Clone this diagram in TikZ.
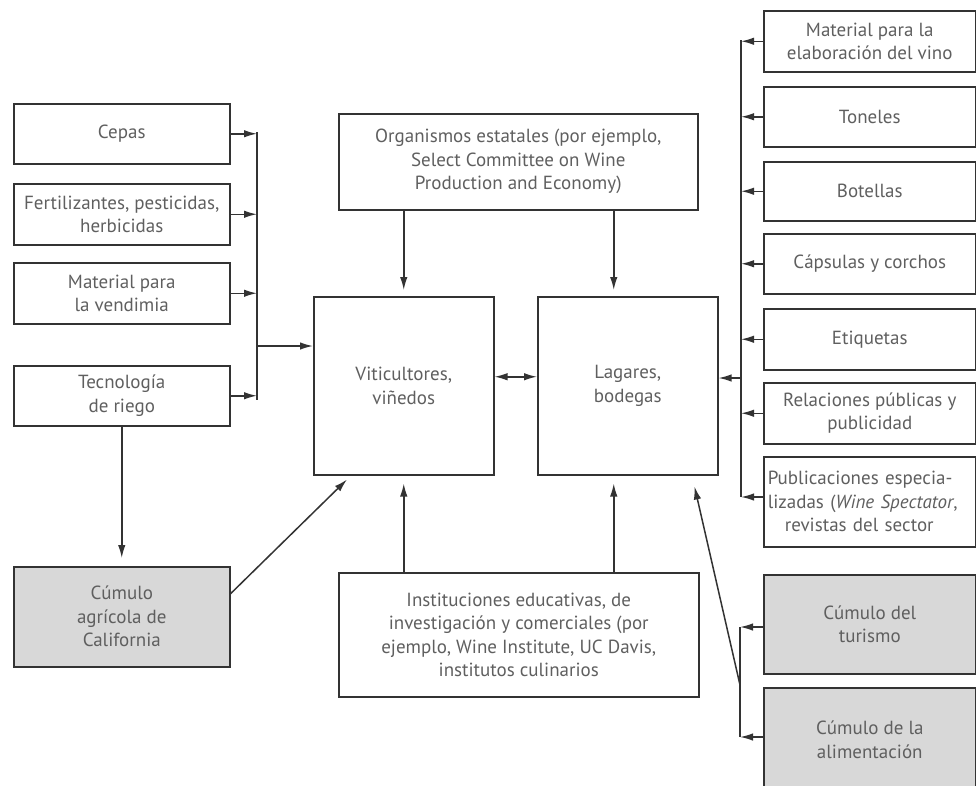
\documentclass[tikz,border=0pt]{standalone}
\usepackage{fontspec}
\setmainfont{PT Sans}
\usetikzlibrary{arrows.meta,calc}
\definecolor{linec}{HTML}{333333}
\definecolor{textc}{HTML}{5F5F5F}
\definecolor{clusterfill}{HTML}{D8D8D8}
\tikzset{
  box/.style={draw=linec, line width=1.5pt, inner sep=0pt, align=center,
    anchor=north west, text=textc, font=\fontsize{19}{23.5}\selectfont},
  cluster/.style={box, fill=clusterfill},
  arr/.style={draw=linec, line width=1.5pt, -{Latex[length=13pt,width=7.5pt]}},
  darr/.style={draw=linec, line width=1.5pt, {Latex[length=13pt,width=7.5pt]}-{Latex[length=13pt,width=7.5pt]}},
  bar/.style={draw=linec, line width=1.5pt},
}
\begin{document}
\begin{tikzpicture}[x=1pt,y=-1pt]
\useasboundingbox (0,0) rectangle (976,785);

% suppliers on the vineyard side
\node[box, minimum width=216pt, minimum height=60pt] (cepas) at (13,103) {Cepas};
\node[box, minimum width=216pt, minimum height=61pt] (fert) at (13,183) {Fertilizantes, pesticidas,\\herbicidas};
\node[box, minimum width=216pt, minimum height=61pt] (vend) at (13,262) {Material para\\la vendimia};
\node[box, minimum width=216pt, minimum height=60pt] (riego) at (13,365) {Tecnología\\de riego};
\node[cluster, minimum width=216pt, minimum height=100pt] (agri) at (13,566) {Cúmulo\\agrícola de\\California};

% core of the cluster
\node[box, minimum width=359pt, minimum height=96pt] (org) at (338,113) {Organismos estatales (por ejemplo,\\Select Committee on Wine\\Production and Economy)};
\node[box, minimum width=180pt, minimum height=178pt] (viti) at (313,296) {Viticultores,\\viñedos};
\node[box, minimum width=180pt, minimum height=178pt] (lag) at (537,296) {Lagares,\\bodegas};
\node[box, minimum width=360pt, minimum height=124pt] (inst) at (338,572) {Instituciones educativas, de\\investigación y comerciales (por\\ejemplo, Wine Institute, UC Davis,\\institutos culinarios};

% suppliers on the winery side
\node[box, minimum width=212pt, minimum height=61pt] (mat) at (763,10) {Material para la\\elaboración del vino};
\node[box, minimum width=212pt, minimum height=60pt] (ton) at (763,86) {Toneles};
\node[box, minimum width=212pt, minimum height=59pt] (bot) at (763,161) {Botellas};
\node[box, minimum width=212pt, minimum height=60pt] (cap) at (763,233) {Cápsulas y corchos};
\node[box, minimum width=212pt, minimum height=61pt] (eti) at (763,308) {Etiquetas};
\node[box, minimum width=212pt, minimum height=61pt] (rel) at (763,382) {Relaciones públicas y\\publicidad};
\node[box, minimum width=212pt, minimum height=90pt, align=left, text width=204pt] (pub) at (763,456)
  {Publicaciones especia-\\lizadas (\textit{Wine Spectator},\\\hspace*{0.9em}revistas del sector};
\node[cluster, minimum width=212pt, minimum height=99pt] (tur) at (763,574) {Cúmulo del\\turismo};
\node[cluster, minimum width=212pt, minimum height=104pt] (ali) at (763,687) {Cúmulo de la\\alimentación};

% left collector bar
\coordinate (lbT) at (257,132);
\coordinate (lbB) at (257,400);
\coordinate (lbJ) at (257,346);
\draw[bar] (lbT) -- (lbB);
\foreach \n in {cepas,fert,vend,riego}
  \draw[arr] (\n.east) -- (\n.east -| lbT);
\draw[arr] (lbJ) -- (lbJ -| viti.west);

% right collector bar
\coordinate (rbT) at (741,40);
\coordinate (rbB) at (741,497);
\coordinate (rbJ) at (741,378);
\draw[bar] (rbT) -- (rbB);
\foreach \n in {mat,ton,bot,cap,eti,rel}
  \draw[arr] (\n.west) -- (\n.west -| rbT);
\draw[arr] (pub.west |- rbB) -- (rbB);
\draw[arr] (rbJ) -- (rbJ -| lag.east);

% tourism and food clusters
\coordinate (tbT) at (740,627);
\coordinate (tbB) at (740,737);
\coordinate (tbJ) at (740,685);
\draw[bar] (tbT) -- (tbB);
\draw[arr] (tur.west |- tbT) -- (tbT);
\draw[arr] (ali.west |- tbB) -- (tbB);
\draw[arr] (tbJ) -- ($(lag.south east)+(-24,11)$);

% links around the core
\coordinate (lagN) at ($(lag.north)+(-14,0)$);
\coordinate (lagS) at ($(lag.south)+(-14,0)$);
\draw[arr] (riego.south) -- ([yshift=8pt]agri.north);
\draw[arr] ([yshift=23pt]agri.east) -- ($(viti.south west)+(34,4)$);
\draw[arr] (viti.north |- org.south) -- ([yshift=6pt]viti.north);
\draw[arr] (lagN |- org.south) -- ([yshift=6pt]lagN);
\draw[darr] ([yshift=9pt]viti.east) -- ([yshift=9pt]lag.west);
\draw[arr] (viti.south |- inst.north) -- ([yshift=-8pt]viti.south);
\draw[arr] (lagS |- inst.north) -- ([yshift=-8pt]lagS);
\end{tikzpicture}
\end{document}
